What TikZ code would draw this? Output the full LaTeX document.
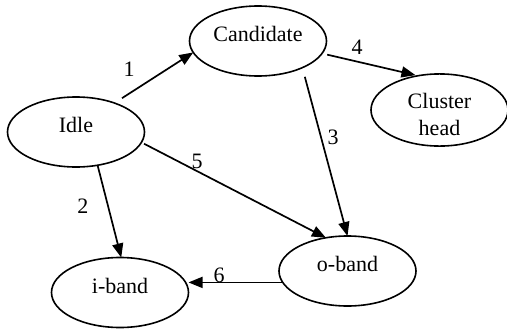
\documentclass[tikz,border=0pt]{standalone}
\usepackage{fontspec}
\setmainfont{Liberation Serif}
\usetikzlibrary{arrows.meta,shapes.geometric}
\begin{document}
\begin{tikzpicture}[x=1pt,y=-1pt,
  every node/.style={font=\fontsize{22}{27}\selectfont},
  state/.style={ellipse, draw, line width=1.6pt, minimum width=137pt,
    minimum height=70pt, inner sep=0pt, outer sep=0pt,
    text height=15pt, text depth=14pt},
  trans/.style={line width=1.7pt, -{Triangle[length=14pt,width=11pt]}},
  num/.style={inner sep=0pt}]
\useasboundingbox (0,0) rectangle (507,330);

% states
\node[state] (cand) at (258,41) {Candidate};
\node[state] (idle) at (76,132) {Idle};
\node[state, align=center, text height=51pt, text depth=0pt] (clus) at (439.5,110) {Cluster\\head};
\node[state] (oband) at (347.5,271) {o-band};
\node[state] (iband) at (120,292.5) {i-band};

% transitions
\draw[trans, shorten <=9pt] (idle.37) -- (cand.190);
\draw[trans, shorten <=0.5pt] (idle.-57) -- (iband.88);
\draw[trans, shorten <=9.5pt] (cand.-31.6) -- (oband.90);
\draw[trans, shorten <=5.3pt, shorten >=2.7pt] (cand.-11.3) -- (clus.122);
\draw[trans, shorten <=3pt] (idle.-9.25) -- (oband.123.6);
\draw[trans] (oband.190) -- (iband.east |- oband.190);

% transition numbers
\node[num] (n1) at (129,69) {1};
\node[num] (n2) at (83,206) {2};
\node[num] (n3) at (333,137) {3};
\node[num] (n4) at (357,47) {4};
\node[num] (n5) at (197,161) {5};
\node[num] (n6) at (219,275) {6};
\end{tikzpicture}
\end{document}
